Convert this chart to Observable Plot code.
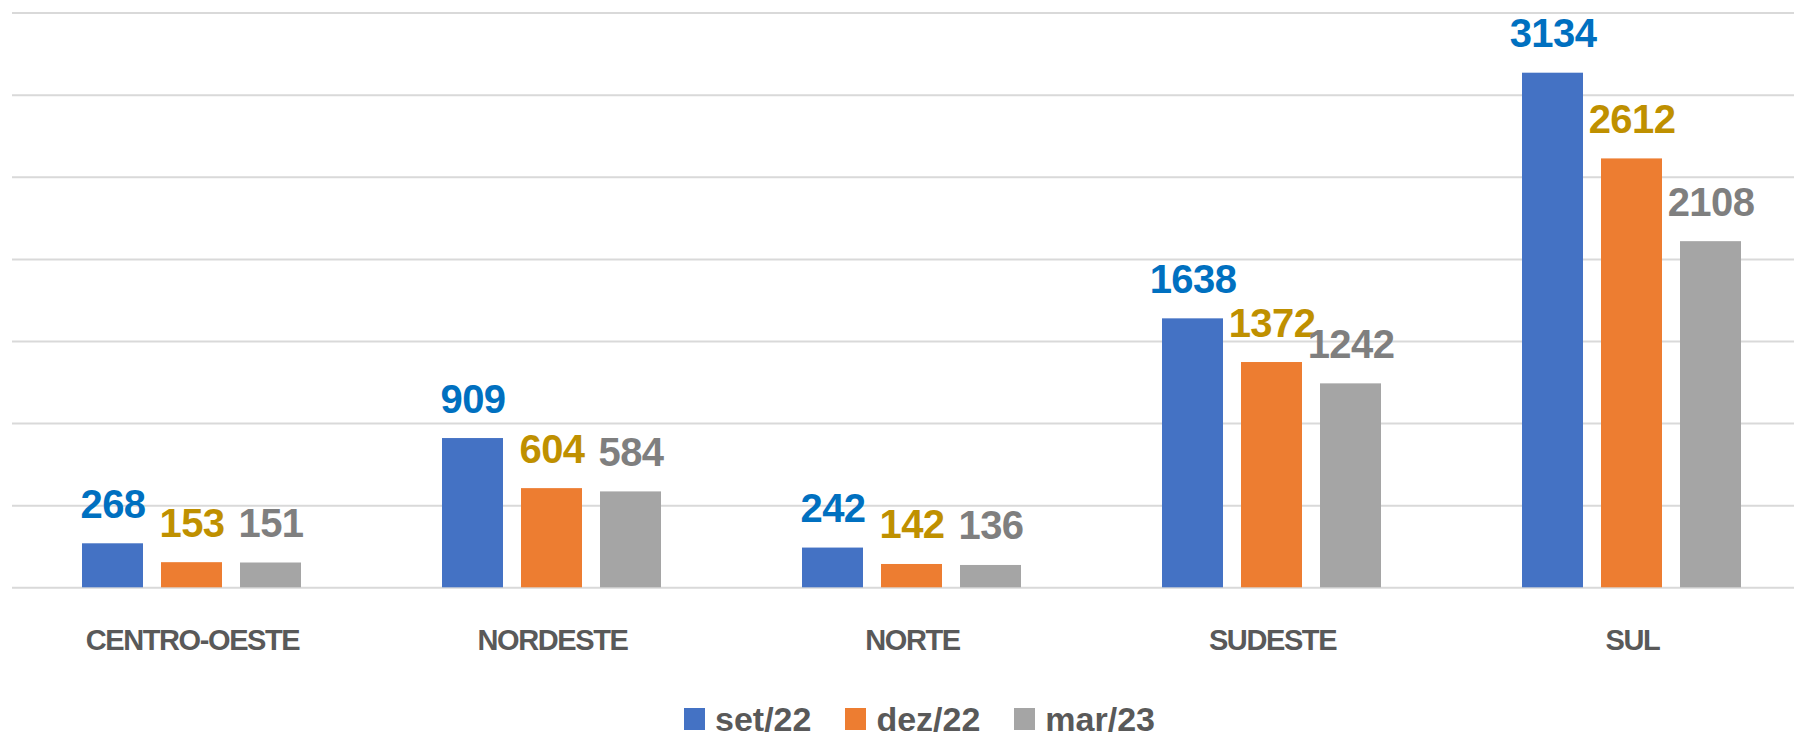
<!DOCTYPE html>
<html>
<head>
<meta charset="utf-8">
<script src="https://cdn.jsdelivr.net/npm/d3@7"></script>
<script src="https://cdn.jsdelivr.net/npm/@observablehq/plot@0.6"></script>
<style>
  html, body { margin: 0; padding: 0; background: #fff; overflow: hidden; width: 1794px; height: 736px; }
  #chart svg { overflow: hidden; display: block; }
  .legend { display: flex; align-items: center; padding-top: 22px; margin-left: 684px;
    font-family: "Liberation Sans", Arial, sans-serif; font-weight: bold; font-size: 34px; line-height: 34px; color: #595959; }
  .legend .item { display: flex; align-items: center; margin-right: 34px; }
  .legend .sw { width: 21px; height: 22px; margin-right: 10px; }
</style>
</head>
<body>
<div id="chart"></div>
<div class="legend" id="legend"></div>
<script>
const regions = ["CENTRO-OESTE", "NORDESTE", "NORTE", "SUDESTE", "SUL"];
const series = ["set/22", "dez/22", "mar/23"];
const set22 = [268, 909, 242, 1638, 3134];
const dez22 = [153, 604, 142, 1372, 2612];
const mar23 = [151, 584, 136, 1242, 2108];
const barColors = ["#4472C4", "#ED7D31", "#A5A5A5"];
const labelColors = ["#0070C0", "#BF9000", "#7F7F7F"];
const gridValues = [0, 500, 1000, 1500, 2000, 2500, 3000, 3500];

const seriesValues = [set22, dez22, mar23];
const data = [];
regions.forEach((r, i) => {
  series.forEach((s, j) => {
    data.push({region: r, series: s, value: seriesValues[j][i], bar: barColors[j], label: labelColors[j]});
  });
});

const font = "'Liberation Sans', Arial, sans-serif";

const chart = Plot.plot({
  width: 1794,
  height: 680,
  marginTop: 12.6,
  marginBottom: 92.7,
  marginLeft: 11,
  marginRight: -19,
  fx: {domain: regions, padding: 0, axis: null},
  x: {domain: series, paddingInner: 0.225, paddingOuter: 0.865, axis: null},
  y: {domain: [0, 3500], axis: null},
  color: {type: "identity"},
  marks: [
    Plot.ruleY(gridValues, {stroke: "#D9D9D9", strokeWidth: 2}),
    Plot.barY(data, {fx: "region", x: "series", y: "value", fill: "bar"}),
    Plot.text(data, {
      fx: "region", x: "series", y: "value", text: d => String(d.value),
      fill: "label", dy: -26, lineAnchor: "bottom",
      fontSize: 40, fontWeight: "bold", fontFamily: font
    }),
    Plot.axisFx({
      anchor: "bottom", tickSize: 0, tickPadding: 42, label: null,
      fontSize: 29, fontWeight: "bold", fontFamily: font, fill: "#595959"
    })
  ]
});
d3.select(chart).selectAll('g[aria-label="text"]').style("letter-spacing", "-0.6px");
d3.select(chart).selectAll('g[aria-label="fx-axis tick label"]').style("letter-spacing", "-1.4px");
document.getElementById("chart").appendChild(chart);

const legend = d3.select("#legend");
series.forEach((s, j) => {
  const item = legend.append("div").attr("class", "item");
  item.append("div").attr("class", "sw").style("background", barColors[j]);
  item.append("span").text(s);
});
</script>
</body>
</html>
